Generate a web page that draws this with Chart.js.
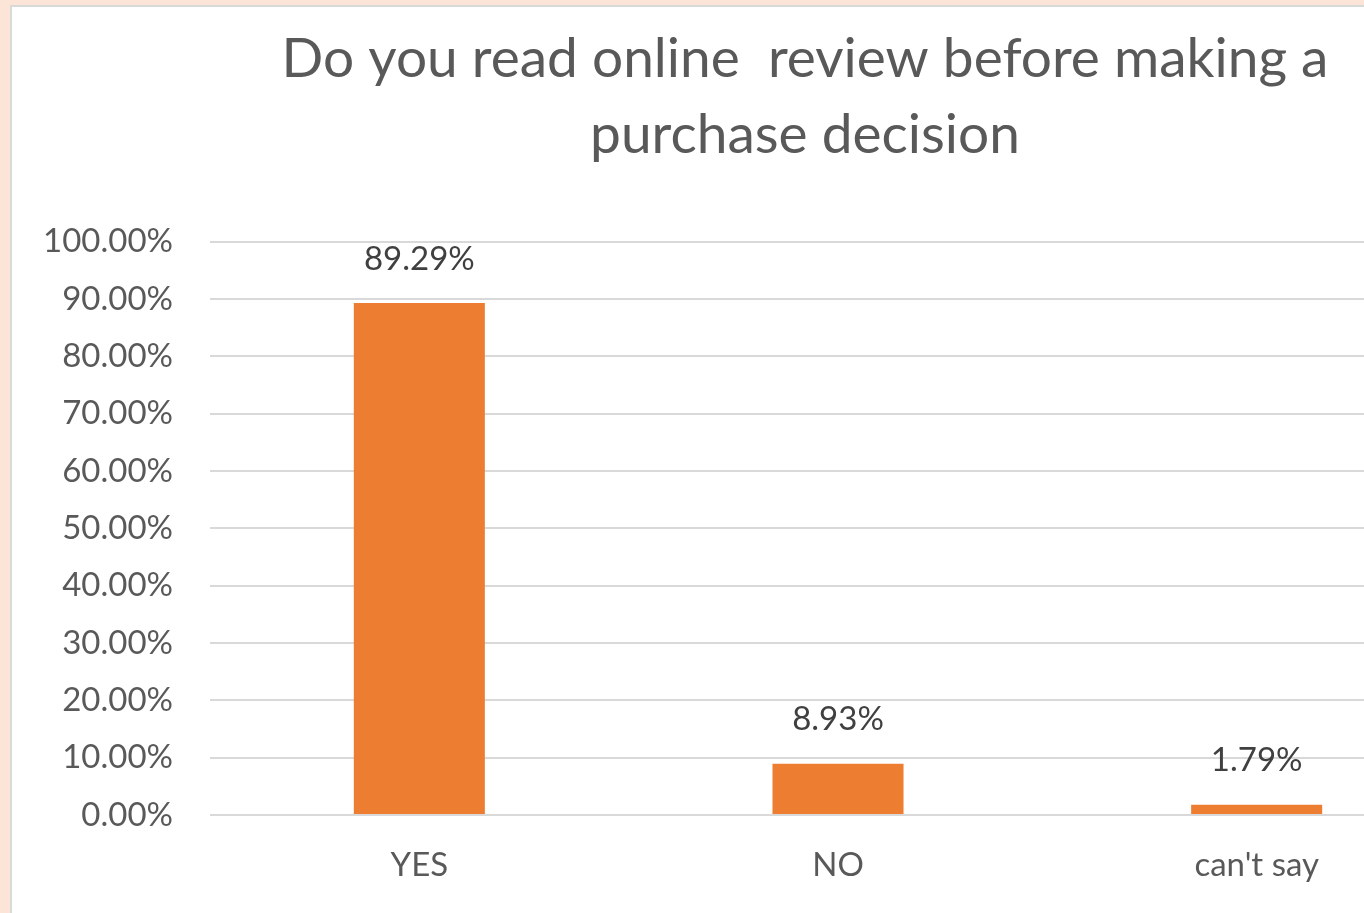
<!DOCTYPE html>
<html>
<head>
<meta charset="utf-8">
<script src="https://cdn.jsdelivr.net/npm/chart.js@4/dist/chart.umd.min.js"></script>
<style>
    html, body {
        margin: 0;
        padding: 0;
        overflow: hidden;
        background: #FCE4D6;
    }
    .frame {
        position: absolute;
        left: 10px;
        top: 5px;
        width: 1586px;
        height: 906px;
        border: 2px solid #D9D9D9;
        background: #FFFFFF;
    }
    canvas {
        display: block;
    }
</style>
</head>
<body>
<div class="frame">
    <canvas id="review-chart" width="1586" height="906"></canvas>
</div>
<script>
// Réponses au sondage (en %)
const categories = ['YES', 'NO', "can't say"];
const shares = [89.29, 8.93, 1.79];
const titleLines = ['Do you read online  review before making a', 'purchase decision'];

const FONT = 'Lato, "Open Sans", sans-serif';

// Étiquettes de valeur au-dessus des barres
const valueLabels = {
    id: 'valueLabels',
    afterDatasetsDraw(chart) {
        const ctx = chart.ctx;
        const meta = chart.getDatasetMeta(0);
        ctx.save();
        ctx.font = '33px ' + FONT;
        ctx.fillStyle = '#404040';
        ctx.textAlign = 'center';
        ctx.textBaseline = 'middle';
        meta.data.forEach((bar, i) => {
            ctx.fillText(shares[i].toFixed(2) + '%', bar.x, bar.y - 44);
        });
        ctx.restore();
    }
};

const ctx = document.getElementById('review-chart');
new Chart(ctx, {
    type: 'bar',
    data: {
        labels: categories,
        datasets: [{
            data: shares,
            backgroundColor: '#ED7D31',
            borderWidth: 0,
            categoryPercentage: 1,
            barPercentage: 0.313
        }]
    },
    options: {
        responsive: false,
        animation: false,
        devicePixelRatio: 1,
        plugins: {
            legend: { display: false },
            tooltip: { enabled: false },
            title: {
                display: true,
                text: titleLines,
                color: '#595959',
                font: { family: FONT, size: 55, weight: 'normal', lineHeight: 1.37 },
                padding: { top: 15, bottom: 69 }
            }
        },
        scales: {
            x: {
                grid: { display: false },
                border: { display: false },
                ticks: {
                    color: '#595959',
                    font: { family: FONT, size: 33 },
                    padding: 23
                },
                afterFit(scale) { scale.height = 98; }
            },
            y: {
                min: 0,
                max: 100,
                grid: {
                    color: '#D9D9D9',
                    lineWidth: 2,
                    drawTicks: false
                },
                border: { display: false },
                ticks: {
                    stepSize: 10,
                    color: '#595959',
                    font: { family: FONT, size: 33 },
                    padding: 37,
                    callback: value => value.toFixed(2) + '%'
                },
                afterFit(scale) { scale.width = 198; }
            },
            // marge droite vide : la zone de tracé s'arrête avant le bord, le titre reste centré sur tout le graphique
            rightGap: {
                position: 'right',
                grid: { display: false },
                border: { display: false },
                ticks: { display: false },
                afterFit(scale) { scale.width = 132; }
            }
        }
    },
    plugins: [valueLabels]
});
</script>
</body>
</html>
